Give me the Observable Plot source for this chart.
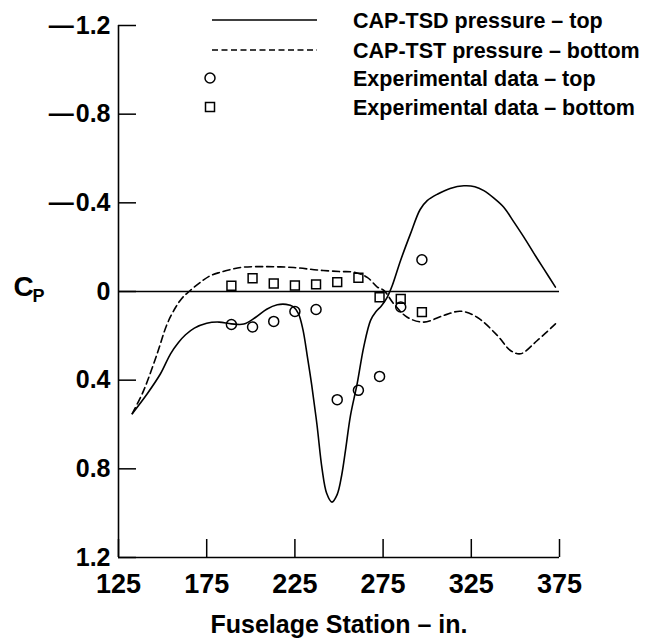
<!DOCTYPE html>
<html>
<head>
<meta charset="utf-8">
<script src="https://cdn.jsdelivr.net/npm/d3@7"></script>
<script src="https://cdn.jsdelivr.net/npm/@observablehq/plot@0.6"></script>
<style>
html, body { margin: 0; padding: 0; background: #fff; }
#wrap { position: relative; width: 657px; height: 642px; }
#legend { position: absolute; left: 0; top: 0; pointer-events: none; }
</style>
</head>
<body>
<div id="wrap"></div>
<script>
// ---- data ----
const xTicks = [125, 175, 225, 275, 325, 375];
const yTicks = [-1.2, -0.8, -0.4, 0, 0.4, 0.8, 1.2];

// CAP-TSD pressure - top (solid)
const tsdStation = [132.8, 141.3, 148.8, 154.5, 159, 163, 168, 175, 182, 189, 196, 203, 209, 215, 220, 224, 227, 229.5, 232, 234.5, 237.5, 240.4, 243, 246, 249, 251.5, 253.7, 256.5, 260.3, 264, 267.9, 271, 274, 277.3, 280.2, 284.9, 290.5, 296, 300, 306, 313, 320.8, 327, 332.1, 338, 343.4, 349, 354.8, 360.5, 366.1, 372.7];
const tsdCp = [0.551, 0.461, 0.371, 0.281, 0.23, 0.195, 0.165, 0.143, 0.138, 0.146, 0.147, 0.115, 0.08, 0.06, 0.058, 0.068, 0.1, 0.17, 0.29, 0.42, 0.6, 0.8, 0.91, 0.95, 0.915, 0.83, 0.716, 0.56, 0.416, 0.251, 0.13, 0.09, 0.065, 0.026, -0.027, -0.14, -0.26, -0.37, -0.41, -0.44, -0.465, -0.477, -0.473, -0.455, -0.42, -0.38, -0.315, -0.245, -0.172, -0.102, -0.02];

// CAP-TST pressure - bottom (dashed)
const tstStation = [132.8, 139.3, 146.9, 152.6, 157.5, 161, 165, 171.5, 177.2, 182.8, 189, 196, 209.3, 224.4, 237.6, 250, 258.4, 266, 271.7, 275.4, 281.1, 288.7, 298.1, 309.4, 318.9, 328.3, 339.7, 347.2, 352.9, 362.4, 372.7];
const tstCp = [0.551, 0.446, 0.281, 0.146, 0.07, 0.03, 0.0, -0.042, -0.072, -0.087, -0.1, -0.11, -0.112, -0.108, -0.097, -0.09, -0.087, -0.064, -0.02, -0.005, 0.056, 0.116, 0.138, 0.108, 0.089, 0.116, 0.198, 0.266, 0.281, 0.221, 0.146];

// Experimental data
const expStation = [189, 201, 213, 225, 237, 249, 261, 273, 285, 297];
const expTopCp = [0.149, 0.16, 0.135, 0.09, 0.081, 0.488, 0.446, 0.383, 0.07, -0.143];
const expBottomCp = [-0.026, -0.06, -0.036, -0.027, -0.032, -0.042, -0.062, 0.026, 0.033, 0.093];

const seriesNames = [
  "CAP-TSD pressure \u2013 top",
  "CAP-TST pressure \u2013 bottom",
  "Experimental data \u2013 top",
  "Experimental data \u2013 bottom"
];
const xTitle = "Fuselage Station \u2013 in.";
const yTitleMain = "C";
const yTitleSub = "P";

// ---- build tables ----
const tsd = tsdStation.map((x, i) => ({x, y: tsdCp[i]}));
const tst = tstStation.map((x, i) => ({x, y: tstCp[i]}));
const expTop = expStation.map((x, i) => ({x, y: expTopCp[i]}));
const expBottom = expStation.map((x, i) => ({x, y: expBottomCp[i]}));

const fmtY = v => v === 0 ? "0" : (v < 0 ? "\u2014\u200A" : "") + d3.format(".1f")(Math.abs(v));

const chart = Plot.plot({
  width: 657,
  height: 642,
  marginLeft: 118,
  marginRight: 98,
  marginTop: 25,
  marginBottom: 85,
  style: {fontFamily: "'Liberation Sans', Arial, sans-serif", fontWeight: "bold", color: "#000", background: "#fff"},
  x: {domain: [125, 375]},
  y: {domain: [-1.2, 1.2], reverse: true},
  marks: [
    Plot.ruleY([0], {strokeWidth: 1.4}),
    Plot.ruleX([125], {strokeWidth: 1.6}),
    Plot.ruleY([1.2], {strokeWidth: 1.6}),
    Plot.axisX({ticks: xTicks, tickSize: -18, tickFormat: () => "", label: null, strokeWidth: 1.5}),
    Plot.axisX({ticks: xTicks, tickSize: 0, tickPadding: 16, fontSize: 27, label: null}),
    Plot.axisY({ticks: yTicks, tickSize: -18, tickFormat: () => "", label: null, strokeWidth: 1.5}),
    Plot.axisY({ticks: yTicks, tickSize: 0, tickPadding: 8, tickFormat: fmtY, fontSize: 25, label: null}),
    Plot.line(tsd, {x: "x", y: "y", curve: "catmull-rom", strokeWidth: 1.6, stroke: "black"}),
    Plot.line(tst, {x: "x", y: "y", curve: "catmull-rom", strokeWidth: 1.6, stroke: "black", strokeDasharray: "7,4"}),
    Plot.dot(expTop, {x: "x", y: "y", r: 5, symbol: "circle", stroke: "black", strokeWidth: 1.5, fill: "none"}),
    Plot.dot(expBottom, {x: "x", y: "y", r: 5, symbol: "square", stroke: "black", strokeWidth: 1.5, fill: "none"}),
    Plot.text([xTitle], {frameAnchor: "bottom", lineAnchor: "top", dy: 58, fontSize: 25}),
    Plot.text([yTitleMain], {frameAnchor: "left", textAnchor: "start", dx: -105, dy: -4, fontSize: 28}),
    Plot.text([yTitleSub], {frameAnchor: "left", textAnchor: "start", dx: -86, dy: 5, fontSize: 18})
  ]
});

const wrap = document.getElementById("wrap");
wrap.appendChild(chart);

// ---- legend (top right, overlaid) ----
const legendRows = [
  {label: seriesNames[0], kind: "solid", y: 20},
  {label: seriesNames[1], kind: "dashed", y: 50},
  {label: seriesNames[2], kind: "circle", y: 78},
  {label: seriesNames[3], kind: "square", y: 107}
];
const leg = d3.select(wrap).append("svg")
  .attr("id", "legend")
  .attr("width", 657).attr("height", 130)
  .style("font-family", "'Liberation Sans', Arial, sans-serif")
  .style("font-weight", "bold");
const g = leg.selectAll("g").data(legendRows).join("g")
  .attr("transform", d => `translate(0,${d.y})`);
g.filter(d => d.kind === "solid" || d.kind === "dashed")
  .append("line")
  .attr("x1", 212).attr("x2", 317).attr("y1", 0).attr("y2", 0)
  .attr("stroke", "black").attr("stroke-width", 1.6)
  .attr("stroke-dasharray", d => d.kind === "dashed" ? "6,3.5" : null);
g.filter(d => d.kind === "circle")
  .append("circle").attr("cx", 210).attr("cy", 0).attr("r", 5)
  .attr("fill", "none").attr("stroke", "black").attr("stroke-width", 1.5);
g.filter(d => d.kind === "square")
  .append("rect").attr("x", 205.5).attr("y", -4.5).attr("width", 9).attr("height", 9)
  .attr("fill", "none").attr("stroke", "black").attr("stroke-width", 1.5);
g.append("text")
  .attr("x", 353).attr("y", 0).attr("dy", "0.35em")
  .attr("font-size", 21.5)
  .text(d => d.label);
</script>
</body>
</html>
